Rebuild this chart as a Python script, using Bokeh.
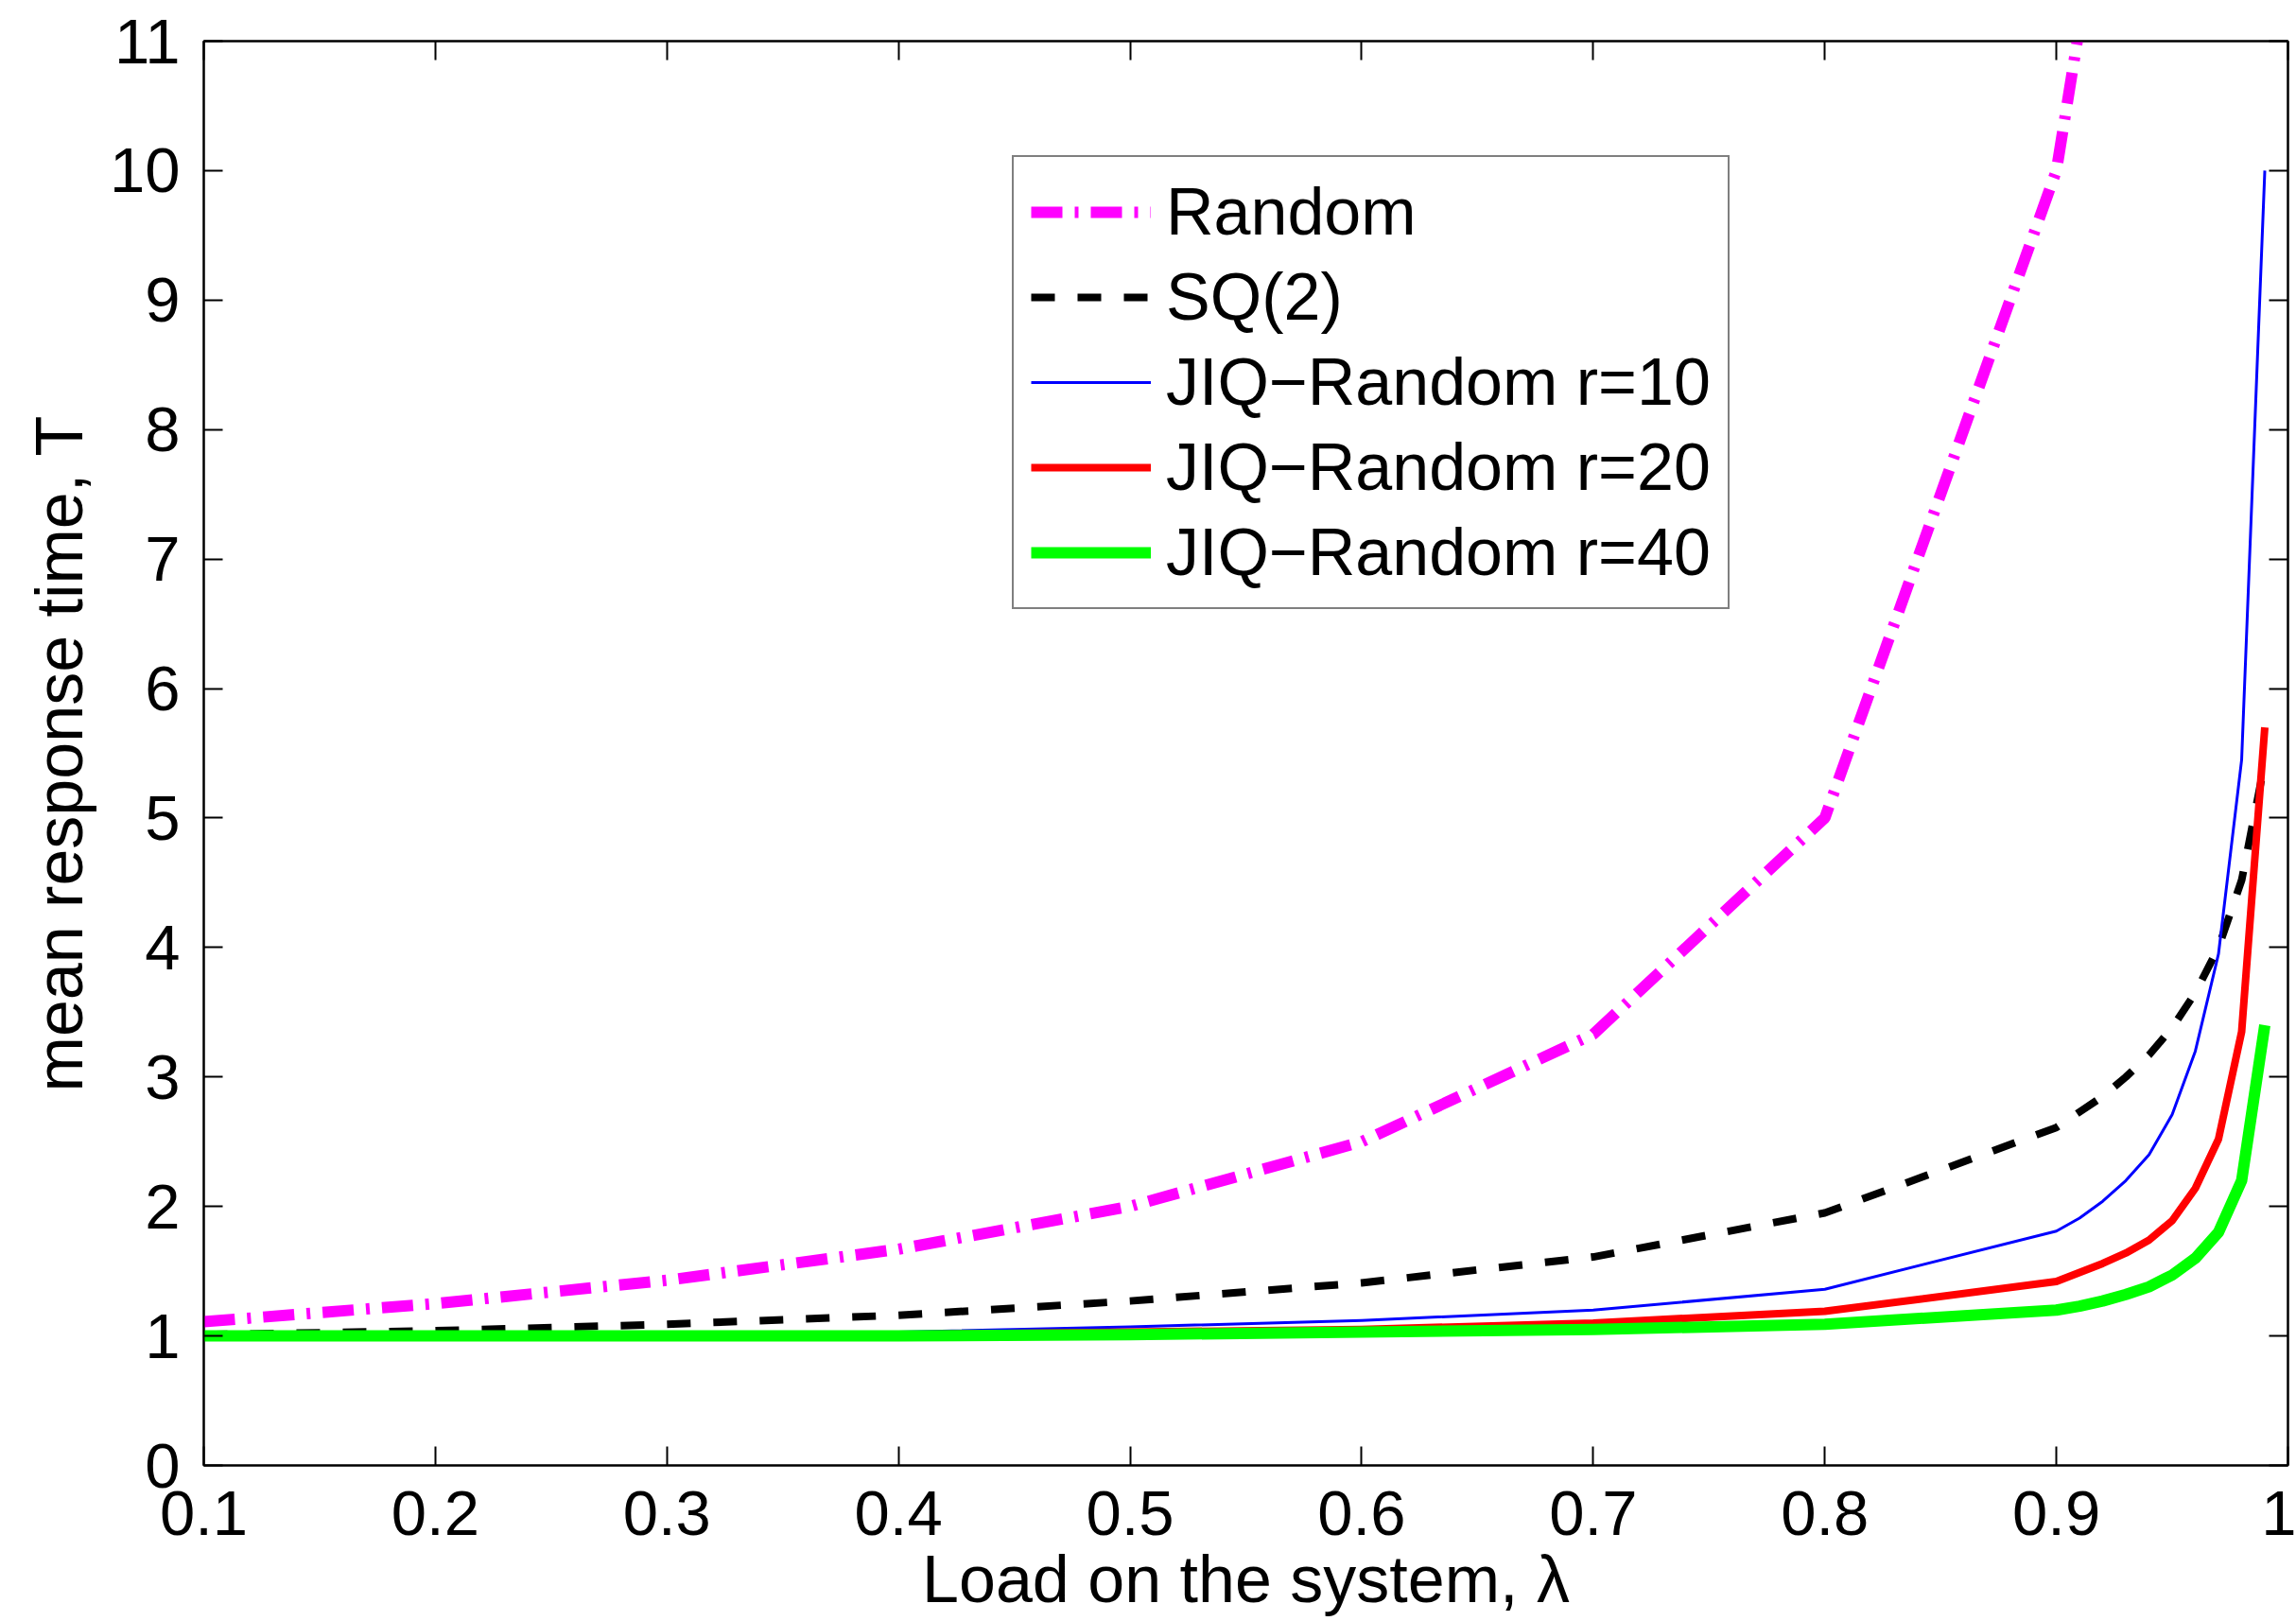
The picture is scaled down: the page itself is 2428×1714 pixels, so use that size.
from bokeh.plotting import figure
from bokeh.models import (Range1d, LinearAxis, FixedTicker, Legend, LegendItem,
                          CustomJSTickFormatter)
from bokeh.embed import file_html
from bokeh.resources import INLINE

# ---- data ----
lam = [0.1, 0.2, 0.3, 0.4, 0.5, 0.6, 0.7, 0.8, 0.9,
       0.91, 0.92, 0.93, 0.94, 0.95, 0.96, 0.97, 0.98, 0.99]
lam_random = [0.1, 0.2, 0.3, 0.4, 0.5, 0.6, 0.7, 0.8, 0.9, 0.91]
t_random = [1.11, 1.25, 1.43, 1.67, 2.0, 2.5, 3.33, 5.0, 10.0, 11.11]
t_sq2 = [1.01, 1.04, 1.09, 1.16, 1.27, 1.41, 1.61, 1.95, 2.61,
         2.73, 2.85, 3.0, 3.17, 3.38, 3.65, 4.0, 4.52, 5.43]
t_r10 = [1.0, 1.0, 1.01, 1.03, 1.07, 1.12, 1.2, 1.36, 1.81,
         1.91, 2.04, 2.2, 2.4, 2.71, 3.2, 3.95, 5.45, 10.0]
t_r20 = [1.0, 1.0, 1.0, 1.01, 1.03, 1.05, 1.1, 1.19, 1.42,
         1.49, 1.56, 1.64, 1.74, 1.89, 2.14, 2.52, 3.35, 5.7]
t_r40 = [1.0, 1.0, 1.0, 1.0, 1.01, 1.03, 1.05, 1.09, 1.2,
         1.23, 1.27, 1.32, 1.38, 1.47, 1.6, 1.8, 2.2, 3.4]

labels = ["Random", "SQ(2)", "JIQ\u2212Random r=10", "JIQ\u2212Random r=20", "JIQ\u2212Random r=40"]
x_ticks = [0.1, 0.2, 0.3, 0.4, 0.5, 0.6, 0.7, 0.8, 0.9, 1.0]
x_tick_labels = ["0.1", "0.2", "0.3", "0.4", "0.5", "0.6", "0.7", "0.8", "0.9", "1"]
y_ticks = [0, 1, 2, 3, 4, 5, 6, 7, 8, 9, 10, 11]
x_title = "Load on the system, \u03bb"
y_title = "mean response time, T"

FONT = "Liberation Sans"

p = figure(width=2428, height=1714, output_backend="svg", toolbar_location=None,
           x_range=Range1d(0.1, 1.0), y_range=Range1d(0, 11),
           min_border_left=215, min_border_right=9, min_border_top=43, min_border_bottom=165,
           x_axis_label=x_title, y_axis_label=y_title)
p.grid.visible = False
p.outline_line_color = "black"
p.outline_line_width = 2
p.background_fill_color = "white"
p.border_fill_color = "white"

r1 = p.line(lam_random, t_random, line_color="#FF00FF", line_width=12, line_dash="33 13 4 13")
r2 = p.line(lam, t_sq2, line_color="black", line_width=8, line_dash="25 24")
r3 = p.line(lam, t_r10, line_color="#0000FF", line_width=3, line_join="round")
r4 = p.line(lam, t_r20, line_color="#FF0000", line_width=8, line_join="round")
r5 = p.line(lam, t_r40, line_color="#00FF00", line_width=12, line_join="round")

def style_axis(ax, show_labels):
    ax.axis_line_color = "black"
    ax.axis_line_width = 2
    ax.major_tick_line_color = "black"
    ax.major_tick_line_width = 2
    ax.major_tick_in = 20
    ax.major_tick_out = 0
    ax.minor_tick_line_color = None
    if show_labels:
        ax.major_label_text_font = FONT
        ax.major_label_text_font_size = "67px"
        ax.major_label_text_color = "black"
        ax.axis_label_text_font = FONT
        ax.axis_label_text_font_size = "70px"
        ax.axis_label_text_font_style = "normal"
        ax.axis_label_text_color = "black"
    else:
        ax.major_label_standoff = 0
        ax.formatter = CustomJSTickFormatter(code="return '';")

p.xaxis.ticker = FixedTicker(ticks=x_ticks)
p.yaxis.ticker = FixedTicker(ticks=y_ticks)
p.xaxis.major_label_overrides = {str(t) if t != 1.0 else "1": l for t, l in zip(x_ticks, x_tick_labels)}
style_axis(p.xaxis[0], True)
style_axis(p.yaxis[0], True)
p.xaxis.major_label_standoff = 27
p.xaxis.axis_label_standoff = 5
p.yaxis.major_label_standoff = 25
p.yaxis.axis_label_standoff = 11

top = LinearAxis(ticker=FixedTicker(ticks=x_ticks))
right = LinearAxis(ticker=FixedTicker(ticks=y_ticks))
style_axis(top, False)
style_axis(right, False)
p.add_layout(top, "above")
p.add_layout(right, "right")

legend = Legend(items=[LegendItem(label=l, renderers=[r]) for l, r in zip(labels, [r1, r2, r3, r4, r5])],
                location=(855, 905))
legend.label_text_font = FONT
legend.label_text_font_size = "70px"
legend.label_text_color = "black"
legend.glyph_width = 127
legend.glyph_height = 80
legend.label_height = 80
legend.label_standoff = 16
legend.spacing = 10
legend.padding = 18
legend.margin = 0
legend.border_line_color = "black"
legend.border_line_width = 2
legend.background_fill_color = "white"
legend.background_fill_alpha = 1.0
p.add_layout(legend, "center")

open("out.html", "w").write(file_html(p, INLINE))
